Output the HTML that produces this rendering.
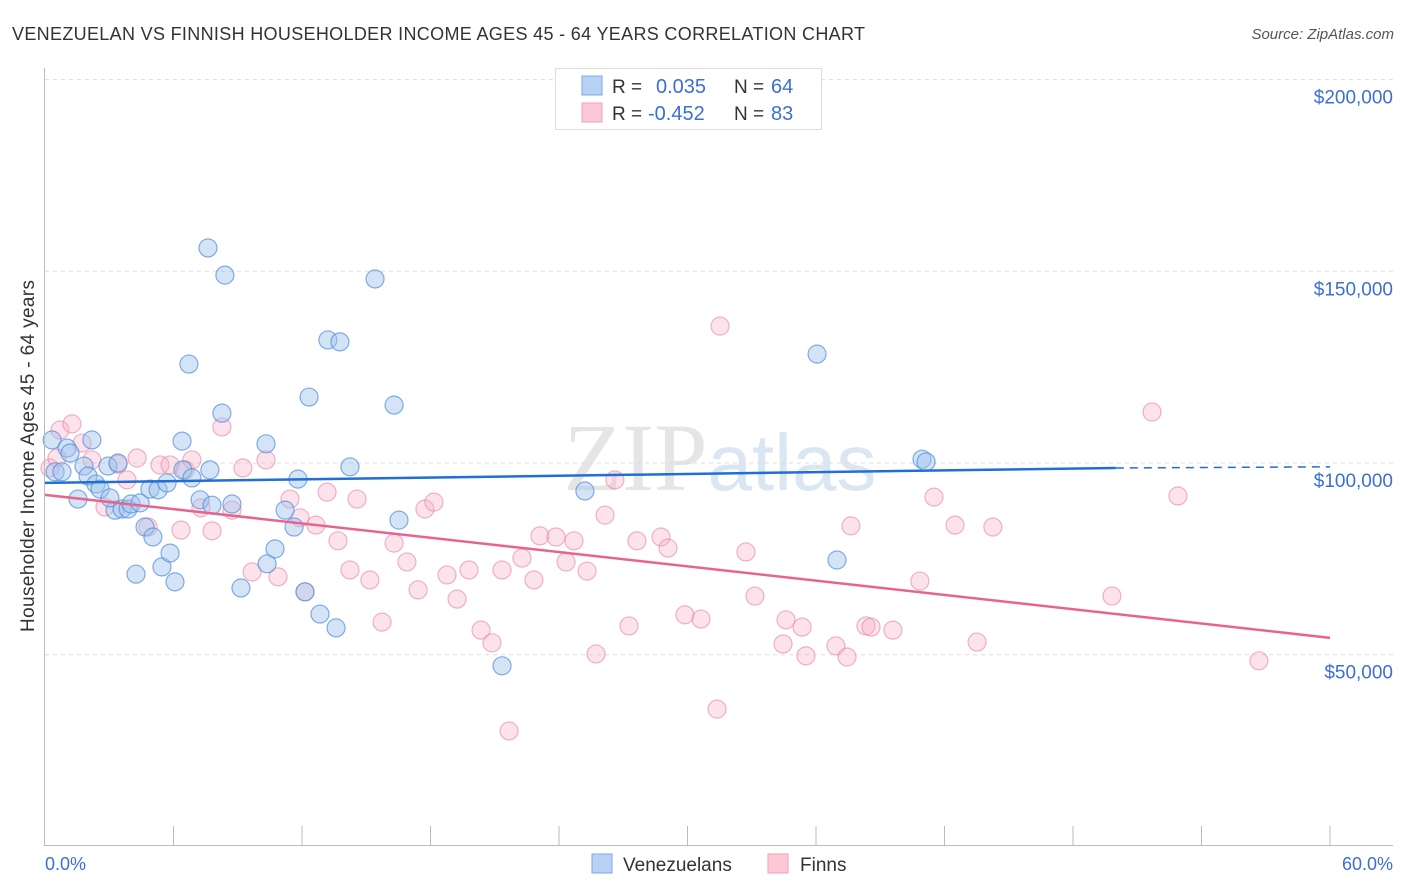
<!DOCTYPE html>
<html><head><meta charset="utf-8"><style>
body{margin:0;background:#fff;width:1406px;height:892px;overflow:hidden;font-family:"Liberation Sans",sans-serif}
svg{position:absolute;left:0;top:0}
</style></head><body>
<svg id="chart" width="1406" height="892">
<text x="12" y="40" font-size="18" fill="#333" textLength="853" lengthAdjust="spacing">VENEZUELAN VS FINNISH HOUSEHOLDER INCOME AGES 45 - 64 YEARS CORRELATION CHART</text>
<text x="1394" y="39" font-size="15" fill="#555" font-style="italic" text-anchor="end">Source: ZipAtlas.com</text>
<text x="0" y="0" transform="translate(34,456) rotate(-90)" font-size="19" fill="#333" text-anchor="middle" textLength="352">Householder Income Ages 45 - 64 years</text>
<text x="720" y="490" font-size="96" fill="#e5e5e5" text-anchor="middle" font-family="Liberation Serif,serif">ZIP<tspan fill="#dbe6f3" font-family="Liberation Sans,sans-serif" font-size="80">atlas</tspan></text>
<g id="grid"></g><g id="pts"></g><g id="trends"></g>
<line x1="44.5" y1="68" x2="44.5" y2="845" stroke="#bbb"/>
<line x1="44" y1="845.5" x2="1393" y2="845.5" stroke="#bbb"/>
<text x="45" y="870" font-size="18" fill="#3b6fd6">0.0%</text>
<text x="1393" y="870" font-size="18" fill="#3b6fd6" text-anchor="end">60.0%</text>
<g>
<rect x="555.5" y="68.5" width="266" height="61" fill="#fff" stroke="#ddd"/>
<rect x="582" y="76" width="20" height="19" fill="#b8d2f5" stroke="#7aa8e6"/>
<rect x="582" y="103" width="20" height="19" fill="#fcc8d6" stroke="#f0a0b8"/>
<text x="612" y="93" font-size="19" fill="#333">R = </text><text x="656" y="93" font-size="20" fill="#3b6fd6">0.035</text>
<text x="734" y="93" font-size="19" fill="#333">N = </text><text x="771" y="93" font-size="20" fill="#3b6fd6">64</text>
<text x="612" y="120" font-size="19" fill="#333">R = </text><text x="648" y="120" font-size="20" fill="#3b6fd6">-0.452</text>
<text x="734" y="120" font-size="19" fill="#333">N = </text><text x="771" y="120" font-size="20" fill="#3b6fd6">83</text>
</g>
<g><rect x="592" y="854" width="20" height="19" fill="#b8d2f5" stroke="#7aa8e6"/><text x="623" y="871" font-size="19" fill="#333">Venezuelans</text></g>
<g><rect x="768" y="854" width="20" height="19" fill="#fcc8d6" stroke="#f0a0b8"/><text x="800" y="871" font-size="19" fill="#333">Finns</text></g>
</svg>
<script>
const yTicks=[50000,100000,150000,200000];
const yTickLabels=["$50,000","$100,000","$150,000","$200,000"];
const xTicks=[0,6,12,18,24,30,36,42,48,54,60];
const blueX=[0.33,0.47,0.79,1.03,1.17,1.54,1.82,2.01,2.19,2.38,2.57,2.94,3.41,3.27,3.60,3.88,4.02,4.44,4.67,4.90,5.04,5.28,5.46,5.70,5.84,6.07,6.40,6.44,6.72,6.86,7.24,7.61,7.70,7.80,8.26,8.40,8.73,9.15,10.32,10.37,10.74,11.21,11.63,11.81,12.14,12.33,12.84,13.21,13.59,13.77,14.24,15.41,16.30,16.53,21.34,25.21,36.05,36.98,40.95,41.14,4.25,3.03];
const blueY=[106.0,97.7,97.7,103.9,102.6,90.6,99.2,96.6,106.0,94.5,93.2,99.2,100.0,87.7,88.0,88.0,89.3,89.6,83.3,93.2,80.7,93.0,72.9,94.8,76.5,69.0,105.7,98.2,125.8,96.1,90.4,156.1,98.2,89.0,113.0,149.0,89.3,67.4,105.0,73.7,77.6,87.7,83.3,95.8,66.4,117.2,60.6,132.1,57.0,131.6,99.0,148.0,115.1,85.1,47.1,92.7,128.4,74.7,101.0,100.3,71.0,90.9];
const pinkX=[0.23,0.56,0.70,1.26,1.73,2.19,2.80,3.41,3.83,4.30,4.81,5.37,5.84,6.35,6.54,6.86,7.28,7.80,8.26,8.73,9.24,9.67,10.32,10.88,11.44,11.91,12.14,12.65,13.17,13.68,14.24,14.57,15.17,15.74,16.30,16.90,17.42,17.74,18.16,18.77,19.24,19.80,20.36,20.87,21.34,21.67,22.27,22.83,23.11,23.86,24.33,24.70,25.31,25.73,26.15,26.61,27.27,27.64,28.76,29.09,29.88,30.63,31.38,31.52,32.73,33.15,34.46,34.60,35.35,35.53,36.93,37.45,37.63,38.33,38.57,39.59,40.85,41.51,42.49,43.52,44.26,49.82,51.69,52.90,56.68];
const pinkY=[98.7,101.3,108.6,110.2,105.2,100.8,88.5,99.7,95.6,101.3,83.3,99.5,99.5,82.5,98.2,100.8,88.3,82.3,109.4,87.7,98.7,71.6,100.8,70.3,90.6,85.7,66.4,83.8,92.4,79.7,72.1,90.6,69.5,58.5,79.1,74.2,66.9,88.0,89.8,70.8,64.5,72.1,56.4,53.1,72.1,30.1,75.2,69.5,81.0,80.7,74.2,79.7,71.8,50.2,86.4,95.6,57.5,79.7,80.7,77.8,60.4,59.3,35.8,135.7,76.8,65.3,52.8,59.1,57.2,49.7,52.3,49.4,83.6,57.5,57.2,56.4,69.2,91.1,83.8,53.3,83.3,65.3,113.3,91.4,48.4];
const blueTrendX=[0,50,60];
const blueTrendY=[94.8,98.7,99.0];
const pinkTrendX=[0,60];
const pinkTrendY=[91.7,54.4];
const NS="http://www.w3.org/2000/svg";
function sx(p){return 45+p*(1330-45)/60;}
function sy(v){return 463-(v-100000)*191.7/50000;}
function mk(t,a,par){const e=document.createElementNS(NS,t);for(const k in a)e.setAttribute(k,a[k]);par.appendChild(e);return e;}
const grid=document.getElementById('grid');
yTicks.forEach((v,i)=>{
  const l=mk('line',{x1:45,x2:1393,y1:sy(v),y2:sy(v),stroke:'#ddd','stroke-dasharray':'4,4'},grid);
  
  
  const t=mk('text',{x:1393,y:sy(v)+24,'font-size':19,fill:'#3b6fd6','text-anchor':'end'},grid);
  t.textContent=yTickLabels[i];
  
  
});
xTicks.forEach((p,i)=>{if(i===0)return;
  const l=mk('line',{x1:sx(p),x2:sx(p),y1:826,y2:845,stroke:'#bbb'},grid);
  
  
});
const pts=document.getElementById('pts');
pinkX.forEach((x,i)=>{
  const c=mk('circle',{cx:sx(x),cy:sy(pinkY[i]*1000),r:9,fill:'rgba(246,176,198,0.35)',stroke:'rgba(232,130,164,0.6)','stroke-width':1.2},pts);
  
  
});
blueX.forEach((x,i)=>{
  const c=mk('circle',{cx:sx(x),cy:sy(blueY[i]*1000),r:9,fill:'rgba(160,196,238,0.45)',stroke:'rgba(80,140,220,0.7)','stroke-width':1.2},pts);
  
  
});
const tr=document.getElementById('trends');
const b1=mk('line',{x1:sx(blueTrendX[0]),y1:sy(blueTrendY[0]*1000),x2:sx(blueTrendX[1]),y2:sy(blueTrendY[1]*1000),stroke:'#1f6fd6','stroke-width':2.5},tr);


const b2=mk('line',{x1:sx(blueTrendX[1]),y1:sy(blueTrendY[1]*1000),x2:sx(blueTrendX[2]),y2:sy(blueTrendY[2]*1000),stroke:'#1f6fd6','stroke-width':1.5,'stroke-dasharray':'8,6'},tr);


const p1=mk('line',{x1:sx(pinkTrendX[0]),y1:sy(pinkTrendY[0]*1000),x2:sx(pinkTrendX[1]),y2:sy(pinkTrendY[1]*1000),stroke:'#e8648e','stroke-width':2.5},tr);


</script>
</body></html>
